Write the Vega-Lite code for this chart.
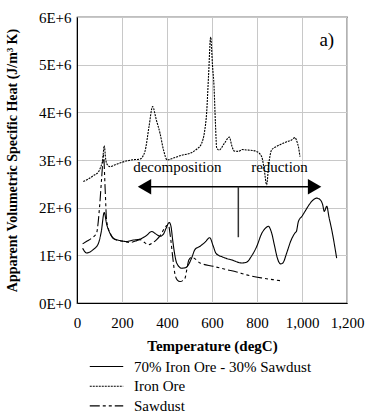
{
  "$schema": "https://vega.github.io/schema/vega-lite/v6.json",
  "width": 270,
  "height": 286,
  "autosize": {"type": "none"},
  "padding": {"left": 77, "top": 17, "right": 19, "bottom": 111},
  "background": "white",
  "config": {
    "font": "Liberation Serif, Times New Roman, Times, serif",
    "view": {"stroke": "black", "strokeWidth": 1.2},
    "axis": {
      "domainColor": "black",
      "gridColor": "#c8c8c8",
      "gridWidth": 1,
      "ticks": false,
      "labelFont": "Liberation Serif, Times New Roman, Times, serif",
      "labelFontSize": 15,
      "labelColor": "black",
      "labelOverlap": false,
      "labelFlush": false,
      "titleFont": "Liberation Serif, Times New Roman, Times, serif",
      "titleColor": "black",
      "titleFontWeight": "bold"
    },
    "legend": {
      "labelFont": "Liberation Serif, Times New Roman, Times, serif",
      "labelFontSize": 15,
      "labelColor": "black",
      "labelLimit": 400
    },
    "text": {"font": "Liberation Serif, Times New Roman, Times, serif"}
  },
  "datasets": {
    "curves": [
      {"s": "70% Iron Ore - 30% Sawdust", "T": 25, "V": 1150000},
      {"s": "70% Iron Ore - 30% Sawdust", "T": 43, "V": 1050000},
      {"s": "70% Iron Ore - 30% Sawdust", "T": 72, "V": 1120000},
      {"s": "70% Iron Ore - 30% Sawdust", "T": 95, "V": 1250000},
      {"s": "70% Iron Ore - 30% Sawdust", "T": 108, "V": 1500000},
      {"s": "70% Iron Ore - 30% Sawdust", "T": 121, "V": 1900000},
      {"s": "70% Iron Ore - 30% Sawdust", "T": 132, "V": 1650000},
      {"s": "70% Iron Ore - 30% Sawdust", "T": 145, "V": 1480000},
      {"s": "70% Iron Ore - 30% Sawdust", "T": 161, "V": 1360000},
      {"s": "70% Iron Ore - 30% Sawdust", "T": 190, "V": 1310000},
      {"s": "70% Iron Ore - 30% Sawdust", "T": 220, "V": 1290000},
      {"s": "70% Iron Ore - 30% Sawdust", "T": 250, "V": 1320000},
      {"s": "70% Iron Ore - 30% Sawdust", "T": 280, "V": 1340000},
      {"s": "70% Iron Ore - 30% Sawdust", "T": 310, "V": 1420000},
      {"s": "70% Iron Ore - 30% Sawdust", "T": 332, "V": 1500000},
      {"s": "70% Iron Ore - 30% Sawdust", "T": 350, "V": 1450000},
      {"s": "70% Iron Ore - 30% Sawdust", "T": 369, "V": 1400000},
      {"s": "70% Iron Ore - 30% Sawdust", "T": 385, "V": 1450000},
      {"s": "70% Iron Ore - 30% Sawdust", "T": 396, "V": 1570000},
      {"s": "70% Iron Ore - 30% Sawdust", "T": 410, "V": 1690000},
      {"s": "70% Iron Ore - 30% Sawdust", "T": 418, "V": 1600000},
      {"s": "70% Iron Ore - 30% Sawdust", "T": 425, "V": 1330000},
      {"s": "70% Iron Ore - 30% Sawdust", "T": 435, "V": 1000000},
      {"s": "70% Iron Ore - 30% Sawdust", "T": 443, "V": 840000},
      {"s": "70% Iron Ore - 30% Sawdust", "T": 465, "V": 730000},
      {"s": "70% Iron Ore - 30% Sawdust", "T": 482, "V": 740000},
      {"s": "70% Iron Ore - 30% Sawdust", "T": 495, "V": 800000},
      {"s": "70% Iron Ore - 30% Sawdust", "T": 510, "V": 950000},
      {"s": "70% Iron Ore - 30% Sawdust", "T": 524, "V": 1120000},
      {"s": "70% Iron Ore - 30% Sawdust", "T": 547, "V": 1190000},
      {"s": "70% Iron Ore - 30% Sawdust", "T": 570, "V": 1280000},
      {"s": "70% Iron Ore - 30% Sawdust", "T": 590, "V": 1370000},
      {"s": "70% Iron Ore - 30% Sawdust", "T": 605, "V": 1200000},
      {"s": "70% Iron Ore - 30% Sawdust", "T": 618, "V": 1040000},
      {"s": "70% Iron Ore - 30% Sawdust", "T": 650, "V": 960000},
      {"s": "70% Iron Ore - 30% Sawdust", "T": 690, "V": 900000},
      {"s": "70% Iron Ore - 30% Sawdust", "T": 732, "V": 840000},
      {"s": "70% Iron Ore - 30% Sawdust", "T": 755, "V": 860000},
      {"s": "70% Iron Ore - 30% Sawdust", "T": 775, "V": 980000},
      {"s": "70% Iron Ore - 30% Sawdust", "T": 800, "V": 1200000},
      {"s": "70% Iron Ore - 30% Sawdust", "T": 820, "V": 1450000},
      {"s": "70% Iron Ore - 30% Sawdust", "T": 840, "V": 1580000},
      {"s": "70% Iron Ore - 30% Sawdust", "T": 850, "V": 1610000},
      {"s": "70% Iron Ore - 30% Sawdust", "T": 865, "V": 1470000},
      {"s": "70% Iron Ore - 30% Sawdust", "T": 878, "V": 1200000},
      {"s": "70% Iron Ore - 30% Sawdust", "T": 890, "V": 950000},
      {"s": "70% Iron Ore - 30% Sawdust", "T": 905, "V": 820000},
      {"s": "70% Iron Ore - 30% Sawdust", "T": 915, "V": 840000},
      {"s": "70% Iron Ore - 30% Sawdust", "T": 932, "V": 1050000},
      {"s": "70% Iron Ore - 30% Sawdust", "T": 950, "V": 1300000},
      {"s": "70% Iron Ore - 30% Sawdust", "T": 969, "V": 1470000},
      {"s": "70% Iron Ore - 30% Sawdust", "T": 975, "V": 1500000},
      {"s": "70% Iron Ore - 30% Sawdust", "T": 984, "V": 1710000},
      {"s": "70% Iron Ore - 30% Sawdust", "T": 1000, "V": 1820000},
      {"s": "70% Iron Ore - 30% Sawdust", "T": 1013, "V": 1920000},
      {"s": "70% Iron Ore - 30% Sawdust", "T": 1030, "V": 2050000},
      {"s": "70% Iron Ore - 30% Sawdust", "T": 1043, "V": 2130000},
      {"s": "70% Iron Ore - 30% Sawdust", "T": 1065, "V": 2200000},
      {"s": "70% Iron Ore - 30% Sawdust", "T": 1080, "V": 2170000},
      {"s": "70% Iron Ore - 30% Sawdust", "T": 1092, "V": 2060000},
      {"s": "70% Iron Ore - 30% Sawdust", "T": 1099, "V": 1920000},
      {"s": "70% Iron Ore - 30% Sawdust", "T": 1110, "V": 2030000},
      {"s": "70% Iron Ore - 30% Sawdust", "T": 1120, "V": 1800000},
      {"s": "70% Iron Ore - 30% Sawdust", "T": 1132, "V": 1540000},
      {"s": "70% Iron Ore - 30% Sawdust", "T": 1145, "V": 1200000},
      {"s": "70% Iron Ore - 30% Sawdust", "T": 1154, "V": 940000},

      {"s": "Iron Ore", "T": 28, "V": 2550000},
      {"s": "Iron Ore", "T": 50, "V": 2600000},
      {"s": "Iron Ore", "T": 75, "V": 2680000},
      {"s": "Iron Ore", "T": 95, "V": 2750000},
      {"s": "Iron Ore", "T": 105, "V": 2850000},
      {"s": "Iron Ore", "T": 114, "V": 3000000},
      {"s": "Iron Ore", "T": 121, "V": 3300000},
      {"s": "Iron Ore", "T": 128, "V": 3000000},
      {"s": "Iron Ore", "T": 135, "V": 2900000},
      {"s": "Iron Ore", "T": 147, "V": 2860000},
      {"s": "Iron Ore", "T": 170, "V": 2900000},
      {"s": "Iron Ore", "T": 199, "V": 2950000},
      {"s": "Iron Ore", "T": 240, "V": 3000000},
      {"s": "Iron Ore", "T": 280, "V": 3020000},
      {"s": "Iron Ore", "T": 302, "V": 3180000},
      {"s": "Iron Ore", "T": 320, "V": 3700000},
      {"s": "Iron Ore", "T": 336, "V": 4120000},
      {"s": "Iron Ore", "T": 352, "V": 3850000},
      {"s": "Iron Ore", "T": 369, "V": 3560000},
      {"s": "Iron Ore", "T": 385, "V": 3200000},
      {"s": "Iron Ore", "T": 401, "V": 3000000},
      {"s": "Iron Ore", "T": 428, "V": 3040000},
      {"s": "Iron Ore", "T": 465, "V": 3100000},
      {"s": "Iron Ore", "T": 502, "V": 3140000},
      {"s": "Iron Ore", "T": 530, "V": 3220000},
      {"s": "Iron Ore", "T": 554, "V": 3350000},
      {"s": "Iron Ore", "T": 567, "V": 3600000},
      {"s": "Iron Ore", "T": 576, "V": 3980000},
      {"s": "Iron Ore", "T": 585, "V": 4800000},
      {"s": "Iron Ore", "T": 594, "V": 5580000},
      {"s": "Iron Ore", "T": 602, "V": 5000000},
      {"s": "Iron Ore", "T": 609, "V": 4540000},
      {"s": "Iron Ore", "T": 615, "V": 3800000},
      {"s": "Iron Ore", "T": 621, "V": 3250000},
      {"s": "Iron Ore", "T": 632, "V": 3210000},
      {"s": "Iron Ore", "T": 655, "V": 3350000},
      {"s": "Iron Ore", "T": 677, "V": 3480000},
      {"s": "Iron Ore", "T": 688, "V": 3300000},
      {"s": "Iron Ore", "T": 698, "V": 3190000},
      {"s": "Iron Ore", "T": 717, "V": 3180000},
      {"s": "Iron Ore", "T": 735, "V": 3220000},
      {"s": "Iron Ore", "T": 754, "V": 3210000},
      {"s": "Iron Ore", "T": 780, "V": 3200000},
      {"s": "Iron Ore", "T": 798, "V": 3180000},
      {"s": "Iron Ore", "T": 821, "V": 3070000},
      {"s": "Iron Ore", "T": 832, "V": 2800000},
      {"s": "Iron Ore", "T": 843, "V": 2480000},
      {"s": "Iron Ore", "T": 852, "V": 2900000},
      {"s": "Iron Ore", "T": 865, "V": 3210000},
      {"s": "Iron Ore", "T": 885, "V": 3280000},
      {"s": "Iron Ore", "T": 902, "V": 3320000},
      {"s": "Iron Ore", "T": 930, "V": 3380000},
      {"s": "Iron Ore", "T": 954, "V": 3420000},
      {"s": "Iron Ore", "T": 969, "V": 3470000},
      {"s": "Iron Ore", "T": 978, "V": 3380000},
      {"s": "Iron Ore", "T": 984, "V": 3280000},
      {"s": "Iron Ore", "T": 991, "V": 3070000},

      {"s": "Sawdust", "T": 25, "V": 1240000},
      {"s": "Sawdust", "T": 45, "V": 1300000},
      {"s": "Sawdust", "T": 65, "V": 1360000},
      {"s": "Sawdust", "T": 87, "V": 1470000},
      {"s": "Sawdust", "T": 100, "V": 2000000},
      {"s": "Sawdust", "T": 110, "V": 2650000},
      {"s": "Sawdust", "T": 118, "V": 3100000},
      {"s": "Sawdust", "T": 125, "V": 2400000},
      {"s": "Sawdust", "T": 132, "V": 1710000},
      {"s": "Sawdust", "T": 147, "V": 1470000},
      {"s": "Sawdust", "T": 169, "V": 1330000},
      {"s": "Sawdust", "T": 200, "V": 1300000},
      {"s": "Sawdust", "T": 236, "V": 1270000},
      {"s": "Sawdust", "T": 260, "V": 1300000},
      {"s": "Sawdust", "T": 280, "V": 1330000},
      {"s": "Sawdust", "T": 300, "V": 1270000},
      {"s": "Sawdust", "T": 317, "V": 1220000},
      {"s": "Sawdust", "T": 335, "V": 1260000},
      {"s": "Sawdust", "T": 354, "V": 1330000},
      {"s": "Sawdust", "T": 375, "V": 1450000},
      {"s": "Sawdust", "T": 391, "V": 1590000},
      {"s": "Sawdust", "T": 406, "V": 1640000},
      {"s": "Sawdust", "T": 415, "V": 1400000},
      {"s": "Sawdust", "T": 425, "V": 980000},
      {"s": "Sawdust", "T": 436, "V": 590000},
      {"s": "Sawdust", "T": 446, "V": 480000},
      {"s": "Sawdust", "T": 458, "V": 450000},
      {"s": "Sawdust", "T": 470, "V": 470000},
      {"s": "Sawdust", "T": 480, "V": 520000},
      {"s": "Sawdust", "T": 488, "V": 700000},
      {"s": "Sawdust", "T": 497, "V": 900000},
      {"s": "Sawdust", "T": 510, "V": 960000},
      {"s": "Sawdust", "T": 547, "V": 840000},
      {"s": "Sawdust", "T": 605, "V": 770000},
      {"s": "Sawdust", "T": 665, "V": 700000},
      {"s": "Sawdust", "T": 710, "V": 650000},
      {"s": "Sawdust", "T": 754, "V": 590000},
      {"s": "Sawdust", "T": 790, "V": 550000},
      {"s": "Sawdust", "T": 828, "V": 520000},
      {"s": "Sawdust", "T": 870, "V": 490000},
      {"s": "Sawdust", "T": 902, "V": 470000}
    ],
    "hline": [{"T": 300, "T2": 1056, "V": 2440000}],
    "vline": [{"T": 717, "V": 2440000, "V2": 1380000}],
    "leftHead": [{"T": 300, "V": 2440000}],
    "rightHead": [{"T": 1056, "V": 2440000}],
    "notes": [
      {"label": "decomposition", "T": 446, "V": 2740000},
      {"label": "reduction", "T": 900, "V": 2740000}
    ],
    "panel": [{"label": "a)", "T": 1110, "V": 5390000}]
  },
  "layer": [
    {
      "data": {"name": "curves"},
      "mark": {"type": "line", "color": "black", "strokeWidth": 1.1, "interpolate": "monotone"},
      "encoding": {
        "x": {
          "field": "T", "type": "quantitative",
          "scale": {"domain": [0, 1200], "nice": false},
          "axis": {
            "title": "Temperature (degC)",
            "values": [0, 200, 400, 600, 800, 1000, 1200],
            "format": ",d",
            "labelPadding": 12,
            "titleFontSize": 15,
            "titleY": 42,
            "titleBaseline": "middle"
          }
        },
        "y": {
          "field": "V", "type": "quantitative",
          "scale": {"domain": [0, 6000000], "nice": false},
          "axis": {
            "title": "Apparent Volumetric Specific Heat (J/m³ K)",
            "values": [0, 1000000, 2000000, 3000000, 4000000, 5000000, 6000000],
            "labelExpr": "format(datum.value / 1000000, 'd') + 'E+' + (datum.value == 0 ? '0' : '6')",
            "labelPadding": 6,
            "titleFontSize": 14,
            "titleX": -65,
            "titleY": 143,
            "titleBaseline": "middle"
          }
        },
        "strokeDash": {
          "field": "s", "type": "nominal",
          "scale": {
            "domain": ["70% Iron Ore - 30% Sawdust", "Iron Ore", "Sawdust"],
            "range": [[1, 0], [2, 1], [10, 3, 3, 3, 3, 3]]
          },
          "legend": {
            "title": null,
            "orient": "none",
            "legendX": 22,
            "legendY": 342,
            "direction": "vertical",
            "symbolType": "M-4,0H4",
            "symbolSize": 70,
            "symbolStrokeWidth": 1.1,
            "symbolStrokeColor": "black",
            "symbolFillColor": "transparent",
            "labelOffset": 20,
            "rowPadding": 3.7,
            "padding": 0
          }
        }
      }
    },
    {
      "data": {"name": "hline"},
      "mark": {"type": "rule", "color": "black", "strokeWidth": 1.5},
      "encoding": {
        "x": {"field": "T", "type": "quantitative"},
        "x2": {"field": "T2"},
        "y": {"field": "V", "type": "quantitative"}
      }
    },
    {
      "data": {"name": "vline"},
      "mark": {"type": "rule", "color": "#333333", "strokeWidth": 1.5},
      "encoding": {
        "x": {"field": "T", "type": "quantitative"},
        "y": {"field": "V", "type": "quantitative"},
        "y2": {"field": "V2"}
      }
    },
    {
      "data": {"name": "leftHead"},
      "mark": {"type": "point", "shape": "triangle-left", "filled": true, "color": "black", "size": 240, "opacity": 1},
      "encoding": {
        "x": {"field": "T", "type": "quantitative"},
        "y": {"field": "V", "type": "quantitative"}
      }
    },
    {
      "data": {"name": "rightHead"},
      "mark": {"type": "point", "shape": "triangle-right", "filled": true, "color": "black", "size": 240, "opacity": 1},
      "encoding": {
        "x": {"field": "T", "type": "quantitative"},
        "y": {"field": "V", "type": "quantitative"}
      }
    },
    {
      "data": {"name": "notes"},
      "mark": {"type": "text", "font": "Liberation Serif, Times New Roman, Times, serif", "fontSize": 15, "color": "black", "align": "center", "baseline": "alphabetic"},
      "encoding": {
        "x": {"field": "T", "type": "quantitative"},
        "y": {"field": "V", "type": "quantitative"},
        "text": {"field": "label"}
      }
    },
    {
      "data": {"name": "panel"},
      "mark": {"type": "text", "font": "Liberation Serif, Times New Roman, Times, serif", "fontSize": 19, "color": "black", "align": "center", "baseline": "alphabetic"},
      "encoding": {
        "x": {"field": "T", "type": "quantitative"},
        "y": {"field": "V", "type": "quantitative"},
        "text": {"field": "label"}
      }
    }
  ]
}
